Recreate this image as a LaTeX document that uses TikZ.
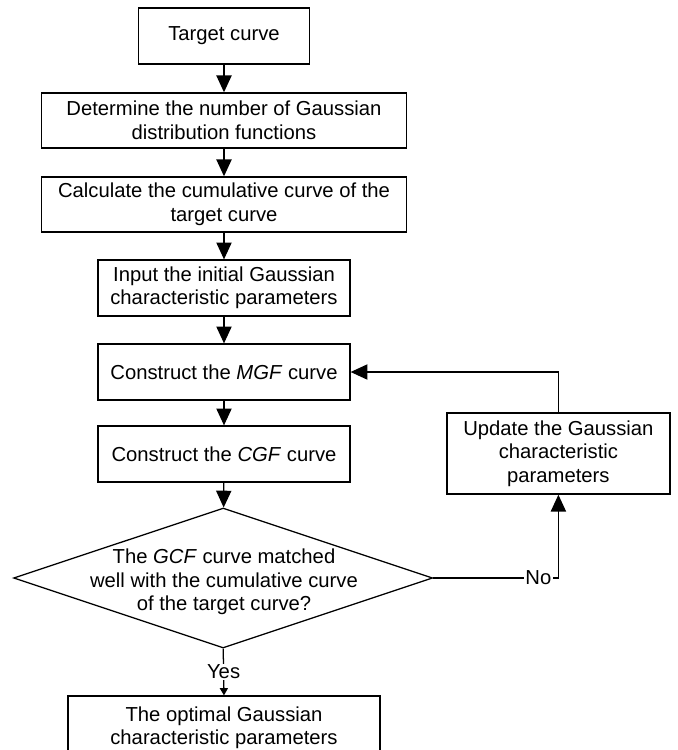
\documentclass[tikz,border=0pt]{standalone}
\usepackage{fontspec}
\setmainfont{Liberation Sans}
\usetikzlibrary{shapes.geometric,arrows.meta}
\begin{document}
\begin{tikzpicture}[>={Triangle[width=0.38cm,length=0.42cm]},
    block/.style={draw,line width=0.9pt,align=center,inner sep=0pt,font=\fontsize{14.4}{16.6}\selectfont},
    label/.style={fill=white,inner sep=1pt,font=\fontsize{14.4}{16.6}\selectfont},
    flow/.style={line width=0.9pt,->}]
\useasboundingbox (0,0) rectangle (16.95,-18.75);
\clip (0,0) rectangle (16.95,-18.75);
%Main column of steps
    \node[block,minimum width=4.275cm,minimum height=1.4cm] (target) at (5.6,-0.9) {Target curve};
    \node[block,minimum width=9.125cm,minimum height=1.375cm] (number) at (5.6,-3.01) {Determine the number of Gaussian\\distribution functions};
    \node[block,minimum width=9.125cm,minimum height=1.375cm] (cumul) at (5.6,-5.11) {Calculate the cumulative curve of the\\target curve};
    \node[block,minimum width=6.3cm,minimum height=1.4cm] (input) at (5.6,-7.2) {Input the initial Gaussian\\characteristic parameters};
    \node[block,minimum width=6.3cm,minimum height=1.4cm] (mgf) at (5.6,-9.3) {Construct the \textit{MGF} curve};
    \node[block,minimum width=6.3cm,minimum height=1.4cm] (cgf) at (5.6,-11.35) {Construct the \textit{CGF} curve};
%Decision diamond, text set on top of it
    \node[draw,diamond,line width=0.9pt,minimum width=10.475cm,minimum height=3.5cm,inner sep=0pt] (check) at (5.58,-14.45) {};
    \node[align=center,inner sep=0pt,font=\fontsize{14.4}{16.6}\selectfont] (checktext) at (5.6,-14.55) {The \textit{GCF} curve matched\\well with the cumulative curve\\of the target curve?};
    \node[block,minimum width=7.8cm,minimum height=1.6cm] (optimal) at (5.6,-18.2) {The optimal Gaussian\\characteristic parameters};
%Feedback loop
    \node[block,minimum width=5.575cm,minimum height=2.025cm] (update) at (13.96,-11.34) {Update the Gaussian\\characteristic\\parameters};
    \draw [flow] (target) -- (number);
    \draw [flow] (number) -- (cumul);
    \draw [flow] (cumul) -- (input);
    \draw [flow] (input) -- (mgf);
    \draw [flow] (mgf) -- (cgf);
    \draw [flow] (cgf) -- (check);
    \draw [flow] (check.east) -| node[label,pos=0.42] {No} (update.south);
    \draw [flow] (update.north) |- (mgf.east);
    \draw [line width=0.9pt,-{Triangle[width=0.2cm,length=0.18cm]}] (check.south) -- node[label] {Yes} (optimal.north);
\end{tikzpicture}
\end{document}
